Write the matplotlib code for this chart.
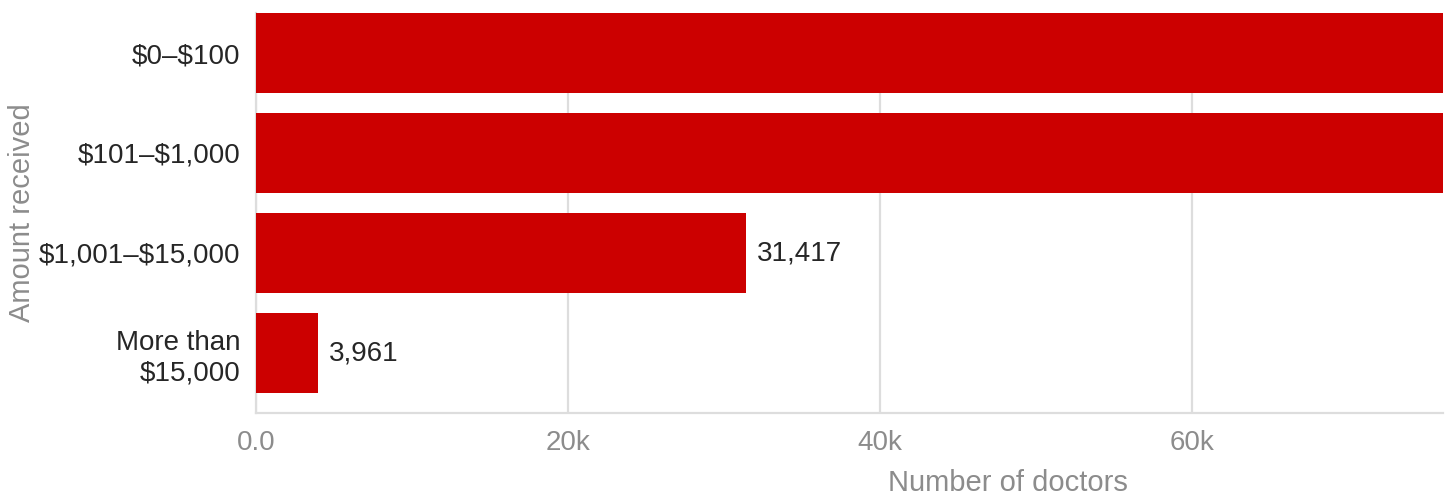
import matplotlib.pyplot as plt

# data (top two bars run past the axis, values estimated)
categories = ['$0–$100', '$101–$1,000', '$1,001–$15,000', 'More than\n$15,000']
doctors = [300000, 200000, 31417, 3961]
x_ticks = [0, 20000, 40000, 60000]
x_tick_labels = ['0.0', '20k', '40k', '60k']

plt.rcParams['font.family'] = ['Liberation Sans', 'DejaVu Sans']
plt.rcParams['text.parse_math'] = False

fig = plt.figure(figsize=(14.5, 4.95), dpi=100)
ax = fig.add_axes([256 / 1450, 1 - 413 / 495, 1187 / 1450, 400 / 495])

pos = list(range(len(categories)))
ax.barh(pos, doctors, height=0.8, color='#cc0000', zorder=3)

xmax = 76100
ax.set_xlim(0, xmax)
ax.set_ylim(3.6, -0.4)

for p, v in zip(pos, doctors):
    if v < xmax:
        ax.annotate(f'{v:,}', xy=(v, p), xytext=(8, 0), textcoords='offset points',
                    va='center', ha='left', fontsize=20, color='#262626')

ax.set_yticks(pos)
ax.set_yticklabels(categories, fontsize=20, color='#262626', linespacing=1.2)
ax.set_xticks(x_ticks)
ax.set_xticklabels(x_tick_labels, fontsize=20, color='#8c8c8c')
ax.tick_params(axis='both', length=0)
ax.tick_params(axis='y', pad=11)
ax.tick_params(axis='x', pad=12)

ax.grid(axis='x', color='#dddddd', linewidth=1.6, zorder=0)
for side in ['top', 'right']:
    ax.spines[side].set_visible(False)
for side in ['left', 'bottom']:
    ax.spines[side].set_color('#dddddd')
    ax.spines[side].set_linewidth(1.6)

fig.text(22 / 1450, 1 - 213 / 495, 'Amount received', rotation=90,
         ha='center', va='center', fontsize=21, color='#8c8c8c')
ax.text(0.6335, -0.175, 'Number of doctors', transform=ax.transAxes,
        ha='center', va='center', fontsize=21, color='#8c8c8c')

fig.savefig('out.png', dpi=100)
